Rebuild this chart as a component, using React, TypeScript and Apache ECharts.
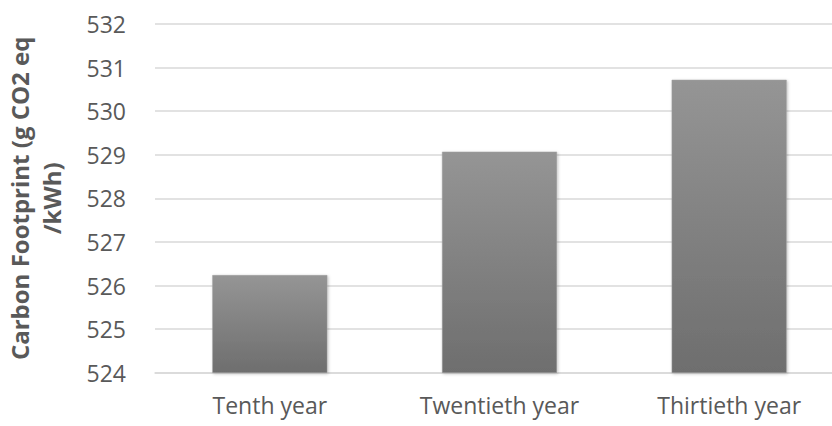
import React, { useEffect, useRef } from "react";
import * as echarts from "echarts";

const categories = ["Tenth year", "Twentieth year", "Thirtieth year"];
const values = [526.24, 529.07, 530.72];
const yMin = 524;
const yMax = 532;
const yInterval = 1;
const yAxisTitle = "Carbon Footprint (g CO2 eq\n/kWh)";

export default function App() {
  const ref = useRef<HTMLDivElement>(null);
  useEffect(() => {
    if (!ref.current) return;
    const chart = echarts.init(ref.current, undefined, { renderer: "svg" });
    chart.setOption({
      animation: false,
      backgroundColor: "#ffffff",
      grid: {
        left: 155,
        top: 24,
        width: 689,
        height: 348.7,
        containLabel: false,
        outerBoundsMode: "none",
      },
      xAxis: {
        type: "category",
        data: categories,
        axisLine: { show: true, lineStyle: { color: "#d9d9d9", width: 1.5 } },
        axisTick: { show: false },
        axisLabel: {
          color: "#595959",
          fontFamily: "Open Sans",
          fontSize: 23,
          margin: 21,
        },
      },
      yAxis: {
        type: "value",
        min: yMin,
        max: yMax,
        interval: yInterval,
        name: yAxisTitle,
        nameLocation: "middle",
        nameRotate: 90,
        nameGap: 88,
        nameTextStyle: {
          color: "#595959",
          fontFamily: "Open Sans",
          fontWeight: "bold",
          fontSize: 24,
          lineHeight: 32,
          align: "center",
        },
        axisLine: { show: false },
        axisTick: { show: false },
        splitLine: { lineStyle: { color: "#d9d9d9", width: 1.5 } },
        axisLabel: {
          color: "#595959",
          fontFamily: "Open Sans",
          fontSize: 23,
          margin: 29,
        },
      },
      series: [
        {
          type: "bar",
          data: values,
          barWidth: 115,
          itemStyle: {
            color: new echarts.graphic.LinearGradient(0, 0, 0, 1, [
              { offset: 0, color: "#959595" },
              { offset: 1, color: "#6e6e6e" },
            ]),
            borderColor: "#a0a0a0",
            borderWidth: 0.5,
            shadowBlur: 3,
            shadowColor: "rgba(0,0,0,0.25)",
            shadowOffsetX: 1,
            shadowOffsetY: 1,
          },
        },
      ],
    });
    return () => chart.dispose();
  }, []);
  return (
    <div
      ref={ref}
      style={{ position: "fixed", left: 0, top: 0, width: 832, height: 426 }}
    />
  );
}
